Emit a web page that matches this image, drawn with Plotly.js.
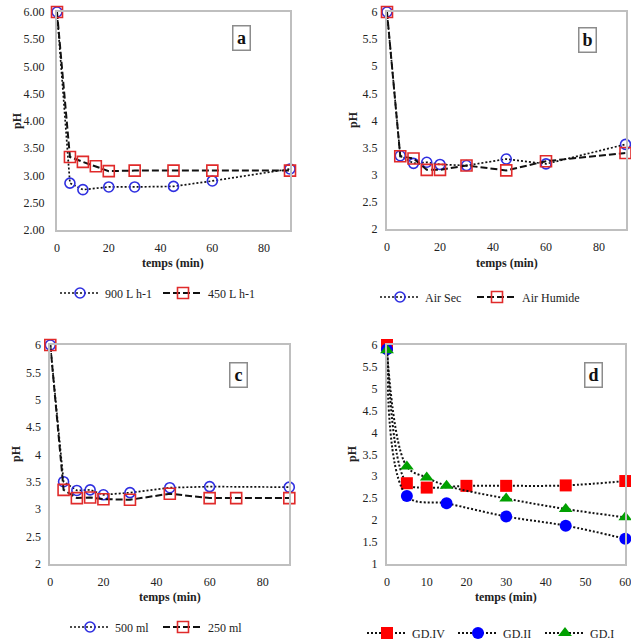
<!DOCTYPE html>
<html>
<head>
<meta charset="utf-8">
<script src="https://cdn.plot.ly/plotly-3.0.1.min.js"></script>
<style>
  html, body { margin: 0; padding: 0; background: #fff; overflow: hidden; }
  #chart { width: 631px; height: 640px; }
</style>
</head>
<body>
<div id="chart"></div>
<script>
// ---- (a) débit d'air ----
const tA900 = [0, 5, 10, 20, 30, 45, 60, 90];
const pH900 = [6.00, 2.86, 2.74, 2.79, 2.79, 2.80, 2.90, 3.12];
const tA450 = [0, 5, 10, 15, 20, 30, 45, 60, 90];
const pH450 = [6.00, 3.34, 3.25, 3.17, 3.08, 3.09, 3.09, 3.09, 3.09];

// ---- (b) humidité de l'air ----
const tB = [0, 5, 10, 15, 20, 30, 45, 60, 90];
const pHAirSec = [6.00, 3.35, 3.21, 3.23, 3.19, 3.17, 3.29, 3.20, 3.56];
const pHAirHumide = [6.00, 3.34, 3.30, 3.09, 3.09, 3.17, 3.08, 3.25, 3.40];

// ---- (c) volume ----
const tC500 = [0, 5, 10, 15, 20, 30, 45, 60, 90];
const pH500 = [6.00, 3.50, 3.34, 3.35, 3.26, 3.30, 3.39, 3.41, 3.40];
const tC250 = [0, 5, 10, 15, 20, 30, 45, 60, 70, 90];
const pH250 = [6.00, 3.35, 3.20, 3.21, 3.18, 3.17, 3.28, 3.20, 3.20, 3.20];

// ---- (d) GD ----
const tGDIV = [0, 5, 10, 20, 30, 45, 60];
const pHGDIV = [6.00, 2.84, 2.74, 2.78, 2.78, 2.79, 2.89];
const tGDII = [0, 5, 15, 30, 45, 60];
const pHGDII = [5.90, 2.55, 2.38, 2.08, 1.87, 1.57];
const tGDI = [0, 5, 10, 15, 30, 45, 60];
const pHGDI = [5.88, 3.22, 2.97, 2.78, 2.49, 2.25, 2.06];

const panelLabels = ['a', 'b', 'c', 'd'];
const xTitle = 'temps (min)';
const yTitle = 'pH';

const W = 631, H = 640;
const FONT = 'Liberation Serif, Times New Roman, serif';
const BLUE = '#2f2fe0', RED = '#e02a2a';
const px = v => v / W;
const py = v => 1 - v / H;

const dotted = { color: '#111', width: 1.7, dash: '2px,2px' };
const dashed = { color: '#111', width: 2, dash: '7px,3px' };
const gdLine = { color: '#111', width: 2, dash: '2px,2px' };
const openCircle = { symbol: 'circle-open', size: 10, color: BLUE, line: { width: 1.6, color: BLUE } };
const openSquare = { symbol: 'square-open', size: 11, color: RED, line: { width: 1.6, color: RED } };

// each series gets its own small legend entry, placed under its panel
// legendPos: [left x of the entry, middle y], in pixels
function scatter(x, y, name, ax, legendId, line, marker, spline) {
  return {
    type: 'scatter', mode: 'lines+markers', x, y, name,
    xaxis: 'x' + ax, yaxis: 'y' + ax, legend: legendId,
    line: Object.assign({}, line, spline ? { shape: 'spline', smoothing: 1 } : {}),
    marker, cliponaxis: false
  };
}

const traces = [
  scatter(tA900, pH900, '900 L h-1', '', 'legend', dotted, openCircle),
  scatter(tA450, pH450, '450 L h-1', '', 'legend2', dashed, openSquare),
  scatter(tB, pHAirSec, 'Air Sec', '2', 'legend3', dotted, openCircle),
  scatter(tB, pHAirHumide, 'Air Humide', '2', 'legend4', dashed, openSquare),
  scatter(tC500, pH500, '500 ml', '3', 'legend5', dotted, openCircle),
  scatter(tC250, pH250, '250 ml', '3', 'legend6', dashed, openSquare),
  scatter(tGDIV, pHGDIV, 'GD.IV', '4', 'legend7', gdLine,
    { symbol: 'square', size: 12, color: '#ff0000' }, true),
  scatter(tGDII, pHGDII, 'GD.II', '4', 'legend8', gdLine,
    { symbol: 'circle', size: 12, color: '#0000ff' }, true),
  scatter(tGDI, pHGDI, 'GD.I', '4', 'legend9', gdLine,
    { symbol: 'triangle-up', size: 12, color: '#00a000' }, true)
];
const legendPos = [
  [55, 293], [158, 293],
  [375, 297], [472, 297],
  [65, 627], [158, 627],
  [362, 633], [453, 633], [540, 633]
];

// plot-area boxes in pixels: [left, right, top, bottom]
const boxes = [
  [57, 290, 12, 230],
  [387, 625.5, 12, 229],
  [50.3, 289.3, 345, 563.7],
  [387, 625.3, 345, 563.7]
];

const axisBase = {
  showgrid: false, zeroline: false, showline: true, mirror: true,
  linecolor: '#bfbfbf', linewidth: 2, ticks: '', automargin: false,
  ticklabeloverflow: 'allow',
  tickfont: { family: FONT, size: 12, color: '#222' }, fixedrange: true
};

const layout = {
  width: W, height: H,
  margin: { l: 0, r: 0, t: 0, b: 0, autoexpand: false },
  paper_bgcolor: '#fff', plot_bgcolor: '#fff',
  font: { family: FONT, size: 12, color: '#222' },
  annotations: [], showlegend: true
};

const xRanges = [[0, 90], [0, 90], [0, 90], [0, 60]];
const xDtick = [20, 20, 20, 10];
const yRanges = [[2, 6], [2, 6], [2, 6], [1, 6]];
boxes.forEach((b, i) => {
  const s = i === 0 ? '' : String(i + 1);
  layout['xaxis' + s] = Object.assign({}, axisBase, {
    domain: [px(b[0]), px(b[1])], range: xRanges[i], dtick: xDtick[i], tick0: 0,
    anchor: 'y' + s, ticklabelstandoff: 6
  });
  layout['yaxis' + s] = Object.assign({}, axisBase, {
    domain: [py(b[3]), py(b[2])], range: yRanges[i], dtick: 0.5, tick0: 0,
    anchor: 'x' + s, ticklabelstandoff: i === 0 ? 8 : 5,
    tickformat: i === 0 ? '.2f' : ''
  });
});

// axis titles
const titleFont = { family: FONT, size: 12, color: '#222' };
const xTitlePos = [[173, 263], [507, 263], [170, 597], [506, 597]];
const yTitlePos = [[17, 121], [353, 120], [16, 454], [352, 454]];
xTitlePos.forEach(p => layout.annotations.push({
  xref: 'paper', yref: 'paper', x: px(p[0]), y: py(p[1]), text: '<b>' + xTitle + '</b>',
  showarrow: false, xanchor: 'center', yanchor: 'middle', font: titleFont
}));
yTitlePos.forEach(p => layout.annotations.push({
  xref: 'paper', yref: 'paper', x: px(p[0]), y: py(p[1]), text: '<b>' + yTitle + '</b>',
  showarrow: false, xanchor: 'center', yanchor: 'middle', textangle: -90, font: titleFont
}));

// boxed panel letters
const letterPos = [[241.5, 37.5], [587.5, 39.5], [238, 375], [593, 375]];
letterPos.forEach((p, i) => layout.annotations.push({
  xref: 'paper', yref: 'paper', x: px(p[0]), y: py(p[1]), text: '<b>' + panelLabels[i] + '</b>',
  showarrow: false, xanchor: 'center', yanchor: 'middle',
  font: { family: FONT, size: 18, color: '#111' },
  bordercolor: '#8c8c8c', borderwidth: 1.5, borderpad: 1, width: 14, height: 21
}));

// legend boxes
legendPos.forEach((p, i) => {
  layout[i === 0 ? 'legend' : 'legend' + (i + 1)] = {
    orientation: 'h', xanchor: 'left', yanchor: 'middle', bgcolor: 'rgba(0,0,0,0)',
    font: { family: FONT, size: 12, color: '#222' }, itemwidth: 40,
    x: px(p[0]), y: py(p[1]), itemclick: false, itemdoubleclick: false
  };
});

Plotly.newPlot('chart', traces, layout, { displayModeBar: false, staticPlot: true });
</script>
</body>
</html>
